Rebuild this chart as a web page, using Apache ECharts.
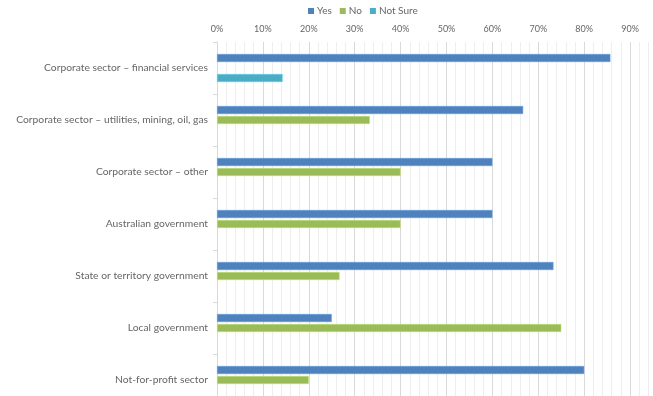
<!DOCTYPE html>
<html>
<head>
<meta charset="utf-8">
<script src="https://cdn.jsdelivr.net/npm/echarts@6/dist/echarts.min.js"></script>
<style>
  html, body { margin: 0; padding: 0; background: #fff; }
  #chart { width: 653px; height: 396px; }
</style>
</head>
<body>
<div id="chart"></div>
<script>
// Sectors, top to bottom
const categories = [
  'Corporate sector \u2013 financial services',
  'Corporate sector \u2013 utilities, mining, oil, gas',
  'Corporate sector \u2013 other',
  'Australian government',
  'State or territory government',
  'Local government',
  'Not-for-profit sector'
];

// Share of responses (%) per sector
const yesValues = [85.7, 66.7, 60, 60, 73.3, 25, 80];
const noValues = [null, 33.3, 40, 40, 26.7, 75, 20];
const notSureValues = [14.3, null, null, null, null, null, null];

const seriesNames = ['Yes', 'No', 'Not Sure'];
const seriesColors = ['#4F81BD', '#9BBB59', '#4BACC6'];

const fontFamily = 'Lato, "Open Sans", sans-serif';
const textColor = '#666666';

const chart = echarts.init(document.getElementById('chart'), null, { renderer: 'canvas' });

function barSeries(name, data, color) {
  return {
    name: name,
    type: 'bar',
    data: data,
    barWidth: 8,
    barGap: '25%',
    itemStyle: { color: color, borderColor: echarts.color.lift(color, -0.25), borderWidth: 0.5 },
    emphasis: { disabled: true }
  };
}

chart.setOption({
  animation: false,
  legend: {
    data: seriesNames,
    left: 303,
    top: 1,
    itemWidth: 6,
    itemHeight: 6,
    itemGap: 8,
    icon: 'rect',
    itemStyle: { borderWidth: 0 },
    textStyle: { color: textColor, fontSize: 10, fontFamily: fontFamily, padding: [0, 0, 0, -2] }
  },
  grid: {
    left: 217, right: -23, top: 42, bottom: -10,
    containLabel: false,
    outerBoundsMode: 'none'
  },
  xAxis: {
    type: 'value',
    position: 'top',
    min: 0,
    max: 100,
    interval: 10,
    axisLine: { show: false },
    axisTick: { show: false },
    axisLabel: {
      color: textColor, fontSize: 9, fontFamily: fontFamily, margin: 8,
      formatter: v => v + '%'
    },
    splitLine: { show: true, lineStyle: { color: '#d9d9d9', width: 1 } },
    minorTick: { show: false, splitNumber: 5 },
    minorSplitLine: { show: true, lineStyle: { color: '#eeeeee', width: 1 } }
  },
  yAxis: {
    type: 'category',
    data: categories,
    inverse: true,
    axisLine: { show: true, lineStyle: { color: '#d9d9d9' } },
    axisTick: { show: true, length: 4, lineStyle: { color: '#d9d9d9' } },
    axisLabel: {
      color: textColor, fontSize: 10.3, fontFamily: fontFamily, margin: 9,
      padding: [4, 0, 0, 0]
    }
  },
  series: [
    barSeries(seriesNames[0], yesValues, seriesColors[0]),
    barSeries(seriesNames[1], noValues, seriesColors[1]),
    barSeries(seriesNames[2], notSureValues, seriesColors[2])
  ]
});
</script>
</body>
</html>
